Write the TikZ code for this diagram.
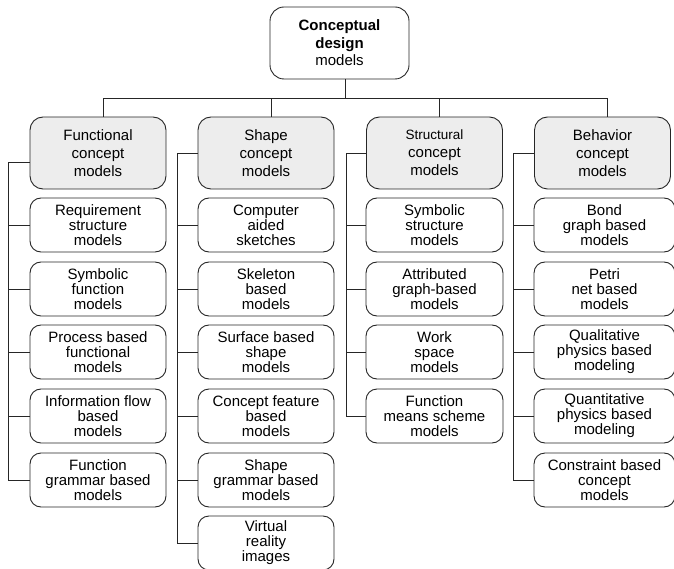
\documentclass[tikz,border=0pt]{standalone}
\usepackage{fontspec}
\setmainfont{Liberation Sans}
\begin{document}
\begin{tikzpicture}[x=1pt,y=-1pt,
  boxline/.style={draw=black!85,line width=0.9pt},
  topbox/.style={boxline,rounded corners=14pt,minimum width=139pt,minimum height=72pt,align=center,inner sep=0pt,font=\fontsize{15}{17.5}\selectfont},
  hdr/.style={boxline,fill=black!7,rounded corners=13pt,minimum width=136pt,minimum height=72pt,align=center,inner sep=0pt,font=\fontsize{15}{18}\selectfont},
  child/.style={boxline,rounded corners=11pt,minimum width=136pt,minimum height=54pt,align=center,inner sep=0pt,font=\fontsize{15}{15}\selectfont},
  conn/.style={draw=black!85,line width=0.9pt}]
\useasboundingbox (0,0) rectangle (674,569);
\node[topbox] (top) at (339.5,43) {\textbf{Conceptual}\\\textbf{design}\\models};
% headers
\node[hdr] (h1) at (98,153) {Functional\\concept\\models};
\node[hdr] (h2) at (266,153) {Shape\\concept\\models};
\node[hdr] (h3) at (434.5,153) {{\fontsize{13.5}{18}\selectfont Structural}\\concept\\models};
\node[hdr] (h4) at (602.5,153) {Behavior\\concept\\models};
% functional children
\node[child] (c11) at (98,225) {Requirement\\structure\\models};
\node[child] (c12) at (98,289) {Symbolic\\function\\models};
\node[child] (c13) at (98,352) {Process based\\functional\\models};
\node[child] (c14) at (98,416) {Information flow\\based\\models};
\node[child] (c15) at (98,480) {Function\\grammar based\\models};
% shape children
\node[child] (c21) at (266,225) {Computer\\aided\\sketches};
\node[child] (c22) at (266,289) {Skeleton\\based\\models};
\node[child] (c23) at (266,352) {Surface based\\shape\\models};
\node[child] (c24) at (266,416) {Concept feature\\based\\models};
\node[child] (c25) at (266,480) {Shape\\grammar based\\models};
\node[child] (c26) at (266,543) {Virtual\\reality\\images};
% structural children
\node[child,minimum width=137pt] (c31) at (434.5,225) {Symbolic\\structure\\models};
\node[child,minimum width=137pt] (c32) at (434.5,289) {Attributed\\graph-based\\models};
\node[child,minimum width=137pt] (c33) at (434.5,352) {Work\\space\\models};
\node[child,minimum width=137pt] (c34) at (434.5,416) {Function\\means scheme\\models};
% behavior children
\node[child,minimum width=141pt] (c41) at (604.5,225) {Bond\\graph based\\models};
\node[child,minimum width=141pt] (c42) at (604.5,289) {Petri\\net based\\models};
\node[child,minimum width=141pt] (c43) at (604.5,352) {Qualitative\\physics based\\modeling};
\node[child,minimum width=141pt] (c44) at (604.5,416) {Quantitative\\physics based\\modeling};
\node[child,minimum width=141pt] (c45) at (604.5,480) {Constraint based\\concept\\models};
% bus
\coordinate (b) at (0,98);
\draw[conn] ([xshift=5.5pt]top.south) -- ([xshift=5.5pt]top.south |- b);
\draw[conn] ([xshift=5pt]h1.north) -- ([xshift=5pt]h1.north |- b) -- ([xshift=4.5pt]h4.north |- b) -- ([xshift=4.5pt]h4.north);
\draw[conn] ([xshift=5pt]h2.north) -- ([xshift=5pt]h2.north |- b);
\draw[conn] ([xshift=4.5pt]h3.north) -- ([xshift=4.5pt]h3.north |- b);
% column verticals
\coordinate (v1) at (8,0);
\coordinate (v2) at (177,0);
\coordinate (v3) at (346,0);
\coordinate (v4) at (513,0);
\draw[conn] ([yshift=-9pt]h1.west) -| (v1 |- c15.west) -- (c15.west);
\foreach \n in {c11,c12,c13,c14} \draw[conn] (\n.west) -- (v1 |- \n.west);
\draw[conn] (h2.west) -| (v2 |- c26.west) -- (c26.west);
\foreach \n in {c21,c22,c23,c24,c25} \draw[conn] (\n.west) -- (v2 |- \n.west);
\draw[conn] (h3.west) -| (v3 |- c34.west) -- (c34.west);
\foreach \n in {c31,c32,c33} \draw[conn] (\n.west) -- (v3 |- \n.west);
\draw[conn] (h4.west) -| (v4 |- c45.west) -- (c45.west);
\foreach \n in {c41,c42,c43,c44} \draw[conn] (\n.west) -- (v4 |- \n.west);
\end{tikzpicture}
\end{document}
